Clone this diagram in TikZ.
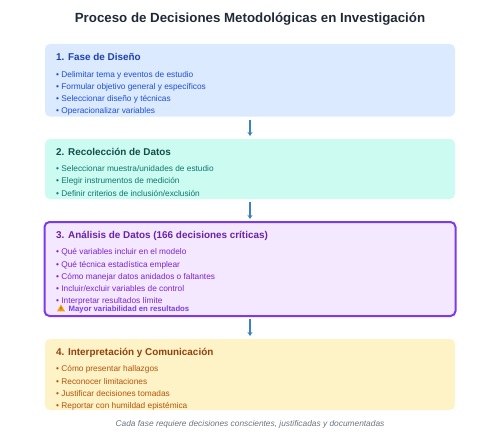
\documentclass[tikz,border=0pt]{standalone}
\usepackage{fontspec}
\setmainfont{Liberation Sans}
\usepackage{xcolor}
\usetikzlibrary{arrows.meta,positioning,shapes.geometric}
\definecolor{bluefill}{HTML}{DBEAFE}
\definecolor{bluehead}{HTML}{1E40AF}
\definecolor{bluetext}{HTML}{1D4ED8}
\definecolor{tealfill}{HTML}{CCFBF1}
\definecolor{tealhead}{HTML}{134E4A}
\definecolor{tealtext}{HTML}{0F766E}
\definecolor{purpfill}{HTML}{F3E8FF}
\definecolor{purphead}{HTML}{6B21A8}
\definecolor{purptext}{HTML}{7E22CE}
\definecolor{purpline}{HTML}{7C3AED}
\definecolor{sandfill}{HTML}{FEF3C7}
\definecolor{sandhead}{HTML}{92400E}
\definecolor{sandtext}{HTML}{B45309}
\definecolor{flow}{HTML}{3B82C4}
\definecolor{warn}{HTML}{F59E0B}
\definecolor{titlecol}{HTML}{1F2937}
\definecolor{notecol}{HTML}{6B7280}

\begin{document}
\begin{tikzpicture}[x=1pt, y=1pt, node distance=22.5pt,
  phase/.style={rounded corners=5pt, minimum width=410pt, inner sep=0pt, outer sep=0pt},
  head/.style={font=\fontsize{9.9}{12}\selectfont\bfseries, inner sep=0pt, anchor=base west},
  items/.style={font=\fontsize{8.3}{12.2}\selectfont, align=left, inner sep=0pt, anchor=north west},
  arr/.style={-{Stealth[length=4pt,width=5pt]}, line width=1.5pt, flow, shorten >=3pt, shorten <=3pt}]
  \useasboundingbox (0,0) rectangle (500,-444);
  \node[font=\fontsize{13.3}{15}\selectfont\bfseries, text=titlecol, inner sep=0pt] (title) at (250,-19.5) {Proceso de Decisiones Metodológicas en Investigación};
  \node[phase, fill=bluefill, minimum height=72.5pt, anchor=north] (d1) at (250,-44) {};
  \node[phase, fill=tealfill, minimum height=60pt, below=of d1] (d2) {};
  \node[phase, fill=purpfill, draw=purpline, line width=2pt, minimum width=411pt, minimum height=94pt, below=23pt of d2] (d3) {};
  \node[phase, fill=sandfill, minimum height=71pt, below=23pt of d3] (d4) {};
  \node[head, text=bluehead] (h1) at ([shift={(11,-16.5)}]d1.north west) {1. Fase de Diseño};
  \node[items, text=bluetext] (l1) at ([shift={(11,-27)}]d1.north west) {• Delimitar tema y eventos de estudio\\• Formular objetivo general y específicos\\• Seleccionar diseño y técnicas\\• Operacionalizar variables};
  \node[head, text=tealhead] (h2) at ([shift={(11,-16)}]d2.north west) {2. Recolección de Datos};
  \node[items, text=tealtext] (l2) at ([shift={(11,-26.5)}]d2.north west) {• Seleccionar muestra/unidades de estudio\\• Elegir instrumentos de medición\\• Definir criterios de inclusión/exclusión};
  \node[head, text=purphead] (h3) at ([shift={(11.5,-16.5)}]d3.north west) {3. Análisis de Datos (166 decisiones críticas)};
  \node[items, text=purptext] (l3) at ([shift={(11.5,-26.5)}]d3.north west) {• Qué variables incluir en el modelo\\• Qué técnica estadística emplear\\• Cómo manejar datos anidados o faltantes\\• Incluir/excluir variables de control\\• Interpretar resultados límite};
  \node[regular polygon, regular polygon sides=3, fill=warn, inner sep=0pt, minimum size=9pt, text=black!70, font=\fontsize{4.5}{5}\selectfont\bfseries] (sign) at ([shift={(16.5,-87)}]d3.north west) {!};
  \node[head, font=\fontsize{7.75}{10}\selectfont\bfseries, text=purpline, anchor=west] (w3) at ([shift={(24,-87.5)}]d3.north west) {Mayor variabilidad en resultados};
  \node[head, text=sandhead] (h4) at ([shift={(11,-16.5)}]d4.north west) {4. Interpretación y Comunicación};
  \node[items, text=sandtext] (l4) at ([shift={(11,-26.5)}]d4.north west) {• Cómo presentar hallazgos\\• Reconocer limitaciones\\• Justificar decisiones tomadas\\• Reportar con humildad epistémica};
  \node[font=\fontsize{8.35}{10}\selectfont\itshape, text=notecol, inner sep=0pt] (note) at (250,-424) {Cada fase requiere decisiones conscientes, justificadas y documentadas};
  \draw[arr] (d1) -- (d2);
  \draw[arr] (d2) -- (d3);
  \draw[arr] (d3) -- (d4);
\end{tikzpicture}
\end{document}
